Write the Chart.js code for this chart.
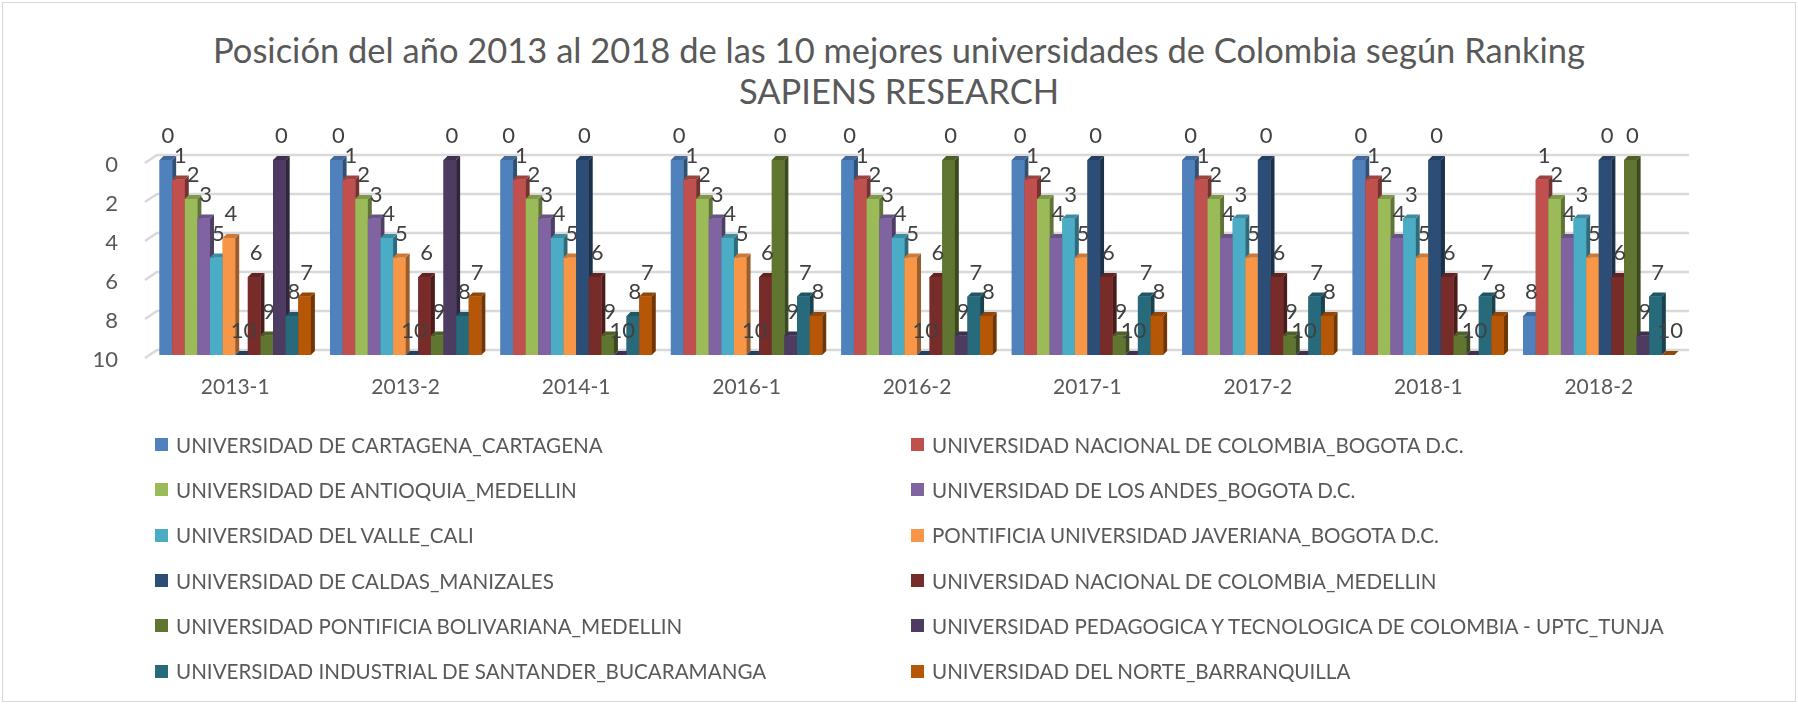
<!DOCTYPE html>
<html>
<head>
<meta charset="utf-8">
<script src="https://cdn.jsdelivr.net/npm/chart.js@4.4.0/dist/chart.umd.min.js"></script>
<style>
  body { margin: 0; background: #fff; }
  #wrap { position: relative; width: 1798px; height: 704px; font-family: Lato, "Open Sans", sans-serif; color: #595959; overflow: hidden; }
  #frame { position: absolute; left: 2px; top: 2px; width: 1794px; height: 700px; border: 1px solid #d9d9d9; box-sizing: border-box; }
  #title { position: absolute; top: 29px; left: 0; width: 1798px; text-align: center; font-size: 34.5px; line-height: 41px; }
  #chartBox { position: absolute; left: 0; top: 100px; }
  #legend { position: absolute; left: 155px; top: 422px; display: grid; grid-template-columns: 756px auto; grid-auto-rows: 45.3px; font-size: 20.6px; }
  .item { display: flex; align-items: center; white-space: nowrap; }
  .box { width: 13px; height: 13px; margin-right: 8px; flex: none; }
</style>
</head>
<body>
<div id="wrap">
  <div id="frame"></div>
  <div id="title">Posición del año 2013 al 2018 de las 10 mejores universidades de Colombia según Ranking<br>SAPIENS RESEARCH</div>
  <div id="chartBox"><canvas id="myChart" width="1798" height="330"></canvas></div>
  <div id="legend"></div>
</div>
<script>
const periods = ["2013-1", "2013-2", "2014-1", "2016-1", "2016-2", "2017-1", "2017-2", "2018-1", "2018-2"];

const universities = [
  "UNIVERSIDAD DE CARTAGENA_CARTAGENA",
  "UNIVERSIDAD NACIONAL DE COLOMBIA_BOGOTA D.C.",
  "UNIVERSIDAD DE ANTIOQUIA_MEDELLIN",
  "UNIVERSIDAD DE LOS ANDES_BOGOTA D.C.",
  "UNIVERSIDAD DEL VALLE_CALI",
  "PONTIFICIA UNIVERSIDAD JAVERIANA_BOGOTA D.C.",
  "UNIVERSIDAD DE CALDAS_MANIZALES",
  "UNIVERSIDAD NACIONAL DE COLOMBIA_MEDELLIN",
  "UNIVERSIDAD PONTIFICIA BOLIVARIANA_MEDELLIN",
  "UNIVERSIDAD PEDAGOGICA Y TECNOLOGICA DE COLOMBIA - UPTC_TUNJA",
  "UNIVERSIDAD INDUSTRIAL DE SANTANDER_BUCARAMANGA",
  "UNIVERSIDAD DEL NORTE_BARRANQUILLA"
];

// position in the ranking for each period
const cartagena        = [0, 0, 0, 0, 0, 0, 0, 0, 8];
const nacionalBogota   = [1, 1, 1, 1, 1, 1, 1, 1, 1];
const antioquia        = [2, 2, 2, 2, 2, 2, 2, 2, 2];
const andes            = [3, 3, 3, 3, 3, 4, 4, 4, 4];
const valle            = [5, 4, 4, 4, 4, 3, 3, 3, 3];
const javeriana        = [4, 5, 5, 5, 5, 5, 5, 5, 5];
const caldas           = [10, 10, 0, 10, 10, 0, 0, 0, 0];
const nacionalMedellin = [6, 6, 6, 6, 6, 6, 6, 6, 6];
const bolivariana      = [9, 9, 9, 0, 0, 9, 9, 9, 0];
const uptc             = [0, 0, 10, 9, 9, 10, 10, 10, 9];
const uis              = [8, 8, 8, 7, 7, 7, 7, 7, 7];
const norte            = [7, 7, 7, 8, 8, 8, 8, 8, 10];

const yTicks = [0, 2, 4, 6, 8, 10];

const series = [cartagena, nacionalBogota, antioquia, andes, valle, javeriana,
  caldas, nacionalMedellin, bolivariana, uptc, uis, norte];

const colors = ["#4F81BD", "#C0504D", "#9BBB59", "#8064A2", "#4BACC6", "#F79646",
  "#2C4D75", "#772C2A", "#5F7530", "#4D3B62", "#276A7C", "#B65708"];

const depth = 4;

function shade(hex, f) {
  const n = parseInt(hex.slice(1), 16);
  const r = Math.round(((n >> 16) & 255) * f);
  const g = Math.round(((n >> 8) & 255) * f);
  const b = Math.round((n & 255) * f);
  return `rgb(${r},${g},${b})`;
}

// back-wall grid lines, drawn a little up and right like the 3D original
const backGrid = {
  id: "backGrid",
  beforeDatasetsDraw(chart) {
    const { ctx, chartArea, scales } = chart;
    ctx.save();
    ctx.strokeStyle = "#d9d9d9";
    ctx.lineWidth = 2.5;
    yTicks.forEach(v => {
      const y = scales.y.getPixelForValue(v);
      ctx.beginPath();
      ctx.moveTo(chartArea.left - 5, y + 3);
      ctx.lineTo(chartArea.left + 7, y - 5);
      ctx.lineTo(chartArea.right + 5, y - 5);
      ctx.stroke();
    });
    ctx.restore();
  }
};

// bars with side and top faces, then the value labels
const bars3d = {
  id: "bars3d",
  afterDatasetsDraw(chart) {
    const ctx = chart.ctx;
    ctx.save();
    chart.data.datasets.forEach((ds, i) => {
      const meta = chart.getDatasetMeta(i);
      meta.data.forEach(bar => {
        const l = bar.x - bar.width / 2, r = bar.x + bar.width / 2;
        const t = bar.y, b = bar.base;
        ctx.fillStyle = ds.backgroundColor;
        ctx.fillRect(l, t, r - l, b - t);
        ctx.fillStyle = shade(ds.backgroundColor, 0.62);
        ctx.beginPath();
        ctx.moveTo(r, t); ctx.lineTo(r + depth, t - depth);
        ctx.lineTo(r + depth, b - depth); ctx.lineTo(r, b);
        ctx.closePath(); ctx.fill();
        ctx.fillStyle = shade(ds.backgroundColor, 0.82);
        ctx.beginPath();
        ctx.moveTo(l, t); ctx.lineTo(l + depth, t - depth);
        ctx.lineTo(r + depth, t - depth); ctx.lineTo(r, t);
        ctx.closePath(); ctx.fill();
      });
    });
    ctx.fillStyle = "#404040";
    ctx.font = "22px Lato";
    ctx.textAlign = "center";
    ctx.textBaseline = "middle";
    chart.data.datasets.forEach((ds, i) => {
      chart.getDatasetMeta(i).data.forEach((bar, j) => {
        ctx.fillText(String(ds.data[j]), bar.x + 2, bar.y - 24);
      });
    });
    ctx.restore();
  }
};

new Chart(document.getElementById("myChart"), {
  type: "bar",
  data: {
    labels: periods,
    datasets: series.map((data, i) => ({
      label: universities[i],
      data,
      base: 10,
      backgroundColor: colors[i],
      borderWidth: 0,
      categoryPercentage: 0.888,
      barPercentage: 1.0
    }))
  },
  options: {
    responsive: false,
    animation: false,
    layout: { padding: { top: 60, right: 114, left: 0, bottom: 0 } },
    plugins: { legend: { display: false }, tooltip: { enabled: false } },
    scales: {
      x: {
        grid: { display: false },
        border: { display: false },
        ticks: { color: "#595959", font: { family: "Lato", size: 21 }, padding: 12 },
        afterFit: s => { s.height = 75; }
      },
      y: {
        min: 0,
        max: 10,
        reverse: true,
        grid: { display: false },
        border: { display: false },
        ticks: { stepSize: 2, color: "#595959", font: { family: "Lato", size: 22 }, padding: 24, labelOffset: 5 },
        afterFit: s => { s.width = 150; }
      }
    }
  },
  plugins: [backGrid, bars3d]
});

// legend in two columns, same order as the series
const legend = document.getElementById("legend");
universities.forEach((name, i) => {
  const item = document.createElement("div");
  item.className = "item";
  item.innerHTML = `<span class="box" style="background:${colors[i]}"></span><span>${name}</span>`;
  legend.appendChild(item);
});
</script>
</body>
</html>
